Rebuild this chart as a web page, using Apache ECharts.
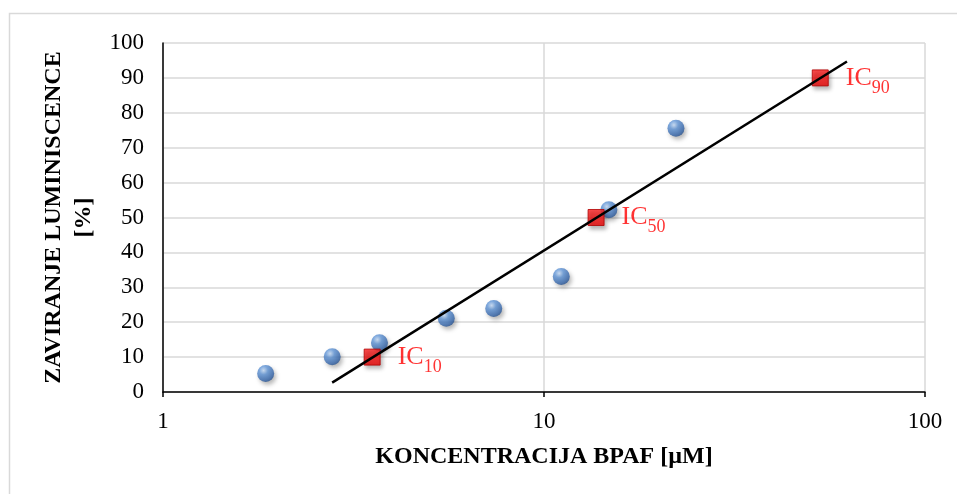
<!DOCTYPE html>
<html>
<head>
<meta charset="utf-8">
<script src="https://cdn.jsdelivr.net/npm/echarts@6/dist/echarts.min.js"></script>
<style>html,body{margin:0;padding:0;background:#fff;}#c{width:957px;height:494px;}</style>
</head>
<body>
<div id="c"></div>
<script>
// Measured data (concentration in µM, inhibition in %)
const concX = [1.86, 2.78, 3.70, 5.54, 7.38, 11.1, 14.8, 22.2];
const inhib = [5.3, 10.1, 14.1, 21.1, 23.9, 33.1, 52.2, 75.6];
const icX = [3.54, 13.7, 53.1];
const icY = [10, 50, 90];
const icSub = ['10', '50', '90'];
const fitX = [2.78, 62.4];
const fitY = [2.7, 94.7];
const xTicks = [1, 10, 100];
const xTitle = 'KONCENTRACIJA BPAF [µM]';
const yTitle = 'ZAVIRANJE LUMINISCENCE\n[%]';

const FONT = 'Liberation Serif';
const chart = echarts.init(document.getElementById('c'), null, {renderer: 'canvas'});

const sphere = new echarts.graphic.RadialGradient(0.38, 0.32, 0.72, [
  {offset: 0, color: '#c4daf5'},
  {offset: 0.35, color: '#5f94d6'},
  {offset: 0.8, color: '#3768ad'},
  {offset: 1, color: '#26508c'}
]);
const redSq = new echarts.graphic.LinearGradient(0, 0, 0, 1, [
  {offset: 0, color: '#ff2020'},
  {offset: 1, color: '#e80000'}
]);

chart.setOption({
  animation: false,
  backgroundColor: '#fff',
  graphic: [{
    type: 'rect', shape: {x: 9.5, y: 13.5, width: 1000, height: 1000},
    style: {fill: 'none', stroke: '#d9d9d9', lineWidth: 1.5}, silent: true, z: -10
  }],
  grid: {left: 163, right: 32, top: 43, bottom: 102, containLabel: false},
  xAxis: {
    type: 'log', logBase: 10, min: xTicks[0], max: xTicks[xTicks.length - 1],
    name: xTitle, nameLocation: 'middle', nameGap: 53,
    nameTextStyle: {fontFamily: FONT, fontSize: 24, fontWeight: 'bold', color: '#000'},
    axisLine: {show: true, onZero: false, lineStyle: {color: '#000', width: 1.5}},
    axisTick: {show: true, length: 5, lineStyle: {color: '#000', width: 1.5}},
    minorTick: {show: false},
    axisLabel: {fontFamily: FONT, fontSize: 23, color: '#000', margin: 18},
    splitLine: {show: true, lineStyle: {color: '#d9d9d9', width: 1.5}}
  },
  yAxis: {
    type: 'value', min: 0, max: 100, interval: 10,
    name: yTitle, nameLocation: 'middle', nameGap: 58, nameRotate: 90,
    nameTextStyle: {fontFamily: FONT, fontSize: 24, fontWeight: 'bold', color: '#000', lineHeight: 30, align: 'center'},
    axisLine: {show: true, lineStyle: {color: '#000', width: 1.5}},
    axisTick: {show: false},
    axisLabel: {fontFamily: FONT, fontSize: 23, color: '#000', margin: 19},
    splitLine: {show: true, lineStyle: {color: '#d9d9d9', width: 1.5}}
  },
  series: [
    {
      type: 'scatter', z: 2,
      data: concX.map((v, i) => [v, inhib[i]]),
      symbol: 'circle', symbolSize: 17,
      itemStyle: {color: sphere, shadowColor: 'rgba(0,0,0,0.35)', shadowBlur: 4, shadowOffsetX: 2, shadowOffsetY: 3}
    },
    {
      type: 'scatter', z: 3,
      data: icX.map((v, i) => [v, icY[i]]),
      symbol: 'rect', symbolSize: 16,
      itemStyle: {color: redSq, borderColor: '#b00000', borderWidth: 1, shadowColor: 'rgba(0,0,0,0.35)', shadowBlur: 4, shadowOffsetX: 2, shadowOffsetY: 3},
      label: {
        show: true, position: 'right', distance: 17,
        formatter: p => '{a|IC}{b|' + icSub[p.dataIndex] + '}',
        rich: {
          a: {fontFamily: FONT, fontSize: 26, color: '#ff0000', lineHeight: 26},
          b: {fontFamily: FONT, fontSize: 18, color: '#ff0000', lineHeight: 18, padding: [20, 0, 0, 0]}
        }
      }
    },
    {
      type: 'line', z: 4,
      data: fitX.map((v, i) => [v, fitY[i]]),
      symbol: 'none',
      lineStyle: {color: '#000', width: 2.5}
    }
  ]
});
</script>
</body>
</html>
